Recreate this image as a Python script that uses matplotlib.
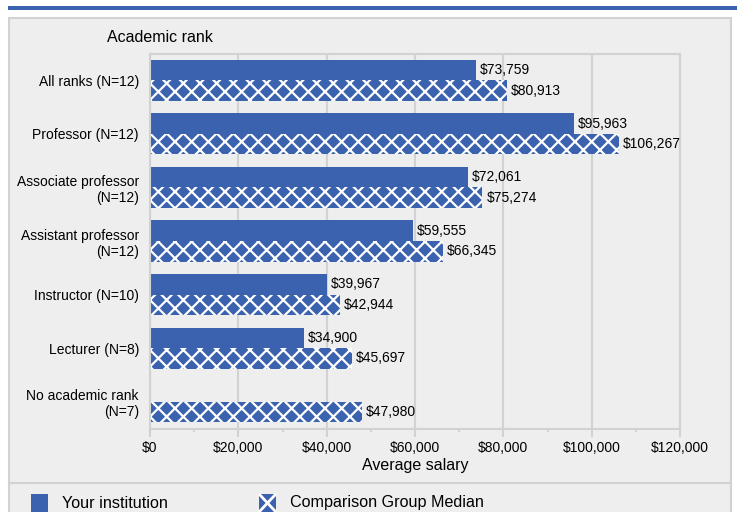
import numpy as np
import matplotlib.pyplot as plt
from matplotlib.patches import Rectangle
from matplotlib.lines import Line2D
from matplotlib.ticker import FuncFormatter, MultipleLocator

plt.rcParams['font.family'] = ['Liberation Sans', 'DejaVu Sans']
plt.rcParams['hatch.linewidth'] = 1.6

# data
categories = ['All ranks (N=12)', 'Professor (N=12)', 'Associate professor\n(N=12)',
              'Assistant professor\n(N=12)', 'Instructor (N=10)', 'Lecturer (N=8)',
              'No academic rank\n(N=7)']
your_institution = [73759, 95963, 72061, 59555, 39967, 34900, np.nan]
comparison_median = [80913, 106267, 75274, 66345, 42944, 45697, 47980]

BLUE = '#3a62ae'
BG = '#eeeeee'
EDGE = '#d2d2d2'
W, H = 737, 512


def fx(x):
    return x / W


def fy(y):
    return 1 - y / H


fig = plt.figure(figsize=(W / 100, H / 100), dpi=100)

# top band and panel (behind the axes)
fig.patches.append(Rectangle((fx(8), fy(10)), fx(737 - 8), 4 / H, transform=fig.transFigure,
                             facecolor=BLUE, edgecolor='none', zorder=-2))
fig.patches.append(Rectangle((fx(9), -0.02), fx(731 - 9), fy(18) + 0.02, transform=fig.transFigure,
                             facecolor=BG, edgecolor=EDGE, lw=1.5, zorder=-2))
fig.lines.append(Line2D([fx(9), fx(731)], [fy(483), fy(483)], transform=fig.transFigure,
                        color=EDGE, lw=1.5, zorder=-1))

ax = fig.add_axes([fx(150), fy(428.5), fx(680 - 150), (428.5 - 53.5) / H])
ax.set_facecolor(BG)

y = np.arange(len(categories))
h = 0.385
ax.barh(y - h / 2, your_institution, height=h, color=BLUE, lw=0)
ax.barh(y + h / 2, comparison_median, height=h, color=BLUE, edgecolor='white', lw=0, hatch='xx')

for i, (a, b) in enumerate(zip(your_institution, comparison_median)):
    if not np.isnan(a):
        ax.annotate('${:,.0f}'.format(a), (a, i - h / 2), xytext=(2.8, 0), textcoords='offset points',
                    va='center', ha='left', fontsize=10)
    ax.annotate('${:,.0f}'.format(b), (b, i + h / 2), xytext=(2.8, 0), textcoords='offset points',
                va='center', ha='left', fontsize=10)

ax.set_xlim(0, 120000)
ax.set_ylim(len(categories) - 0.5, -0.5)
ax.set_yticks(y)
ax.set_yticklabels(categories, fontsize=10)
ax.xaxis.set_major_locator(MultipleLocator(20000))
ax.xaxis.set_minor_locator(MultipleLocator(10000))
ax.xaxis.set_major_formatter(FuncFormatter(lambda v, p: '${:,.0f}'.format(v)))
ax.tick_params(axis='x', which='major', length=6, width=1.5, color=EDGE, labelsize=10, pad=3)
ax.tick_params(axis='x', which='minor', length=2.5, width=1.5, color=EDGE)
ax.tick_params(axis='y', length=0, pad=8)
ax.grid(axis='x', color=EDGE, lw=1.5)
ax.set_axisbelow(True)
for s in ax.spines.values():
    s.set_color(EDGE)
    s.set_linewidth(1.5)

ax.set_xlabel('Average salary', fontsize=11.5, labelpad=2)
fig.text(fx(107), fy(38), 'Academic rank', fontsize=11.5, va='center', ha='left')

# legend
fig.patches.append(Rectangle((fx(31), fy(512)), fx(17), 18 / H, transform=fig.transFigure,
                             facecolor=BLUE, edgecolor='none'))
fig.text(fx(62), fy(503), 'Your institution', fontsize=11.6, va='center', ha='left')
fig.patches.append(Rectangle((fx(259), fy(512)), fx(17), 18 / H, transform=fig.transFigure,
                             facecolor=BLUE, edgecolor='none'))
fig.lines.append(Line2D([fx(260), fx(275)], [fy(495), fy(511)], transform=fig.transFigure,
                        color='white', lw=2))
fig.lines.append(Line2D([fx(260), fx(275)], [fy(511), fy(495)], transform=fig.transFigure,
                        color='white', lw=2))
fig.text(fx(290), fy(503), 'Comparison Group Median', fontsize=11.6, va='center', ha='left')

fig.savefig('out.png', dpi=100, facecolor='white')
